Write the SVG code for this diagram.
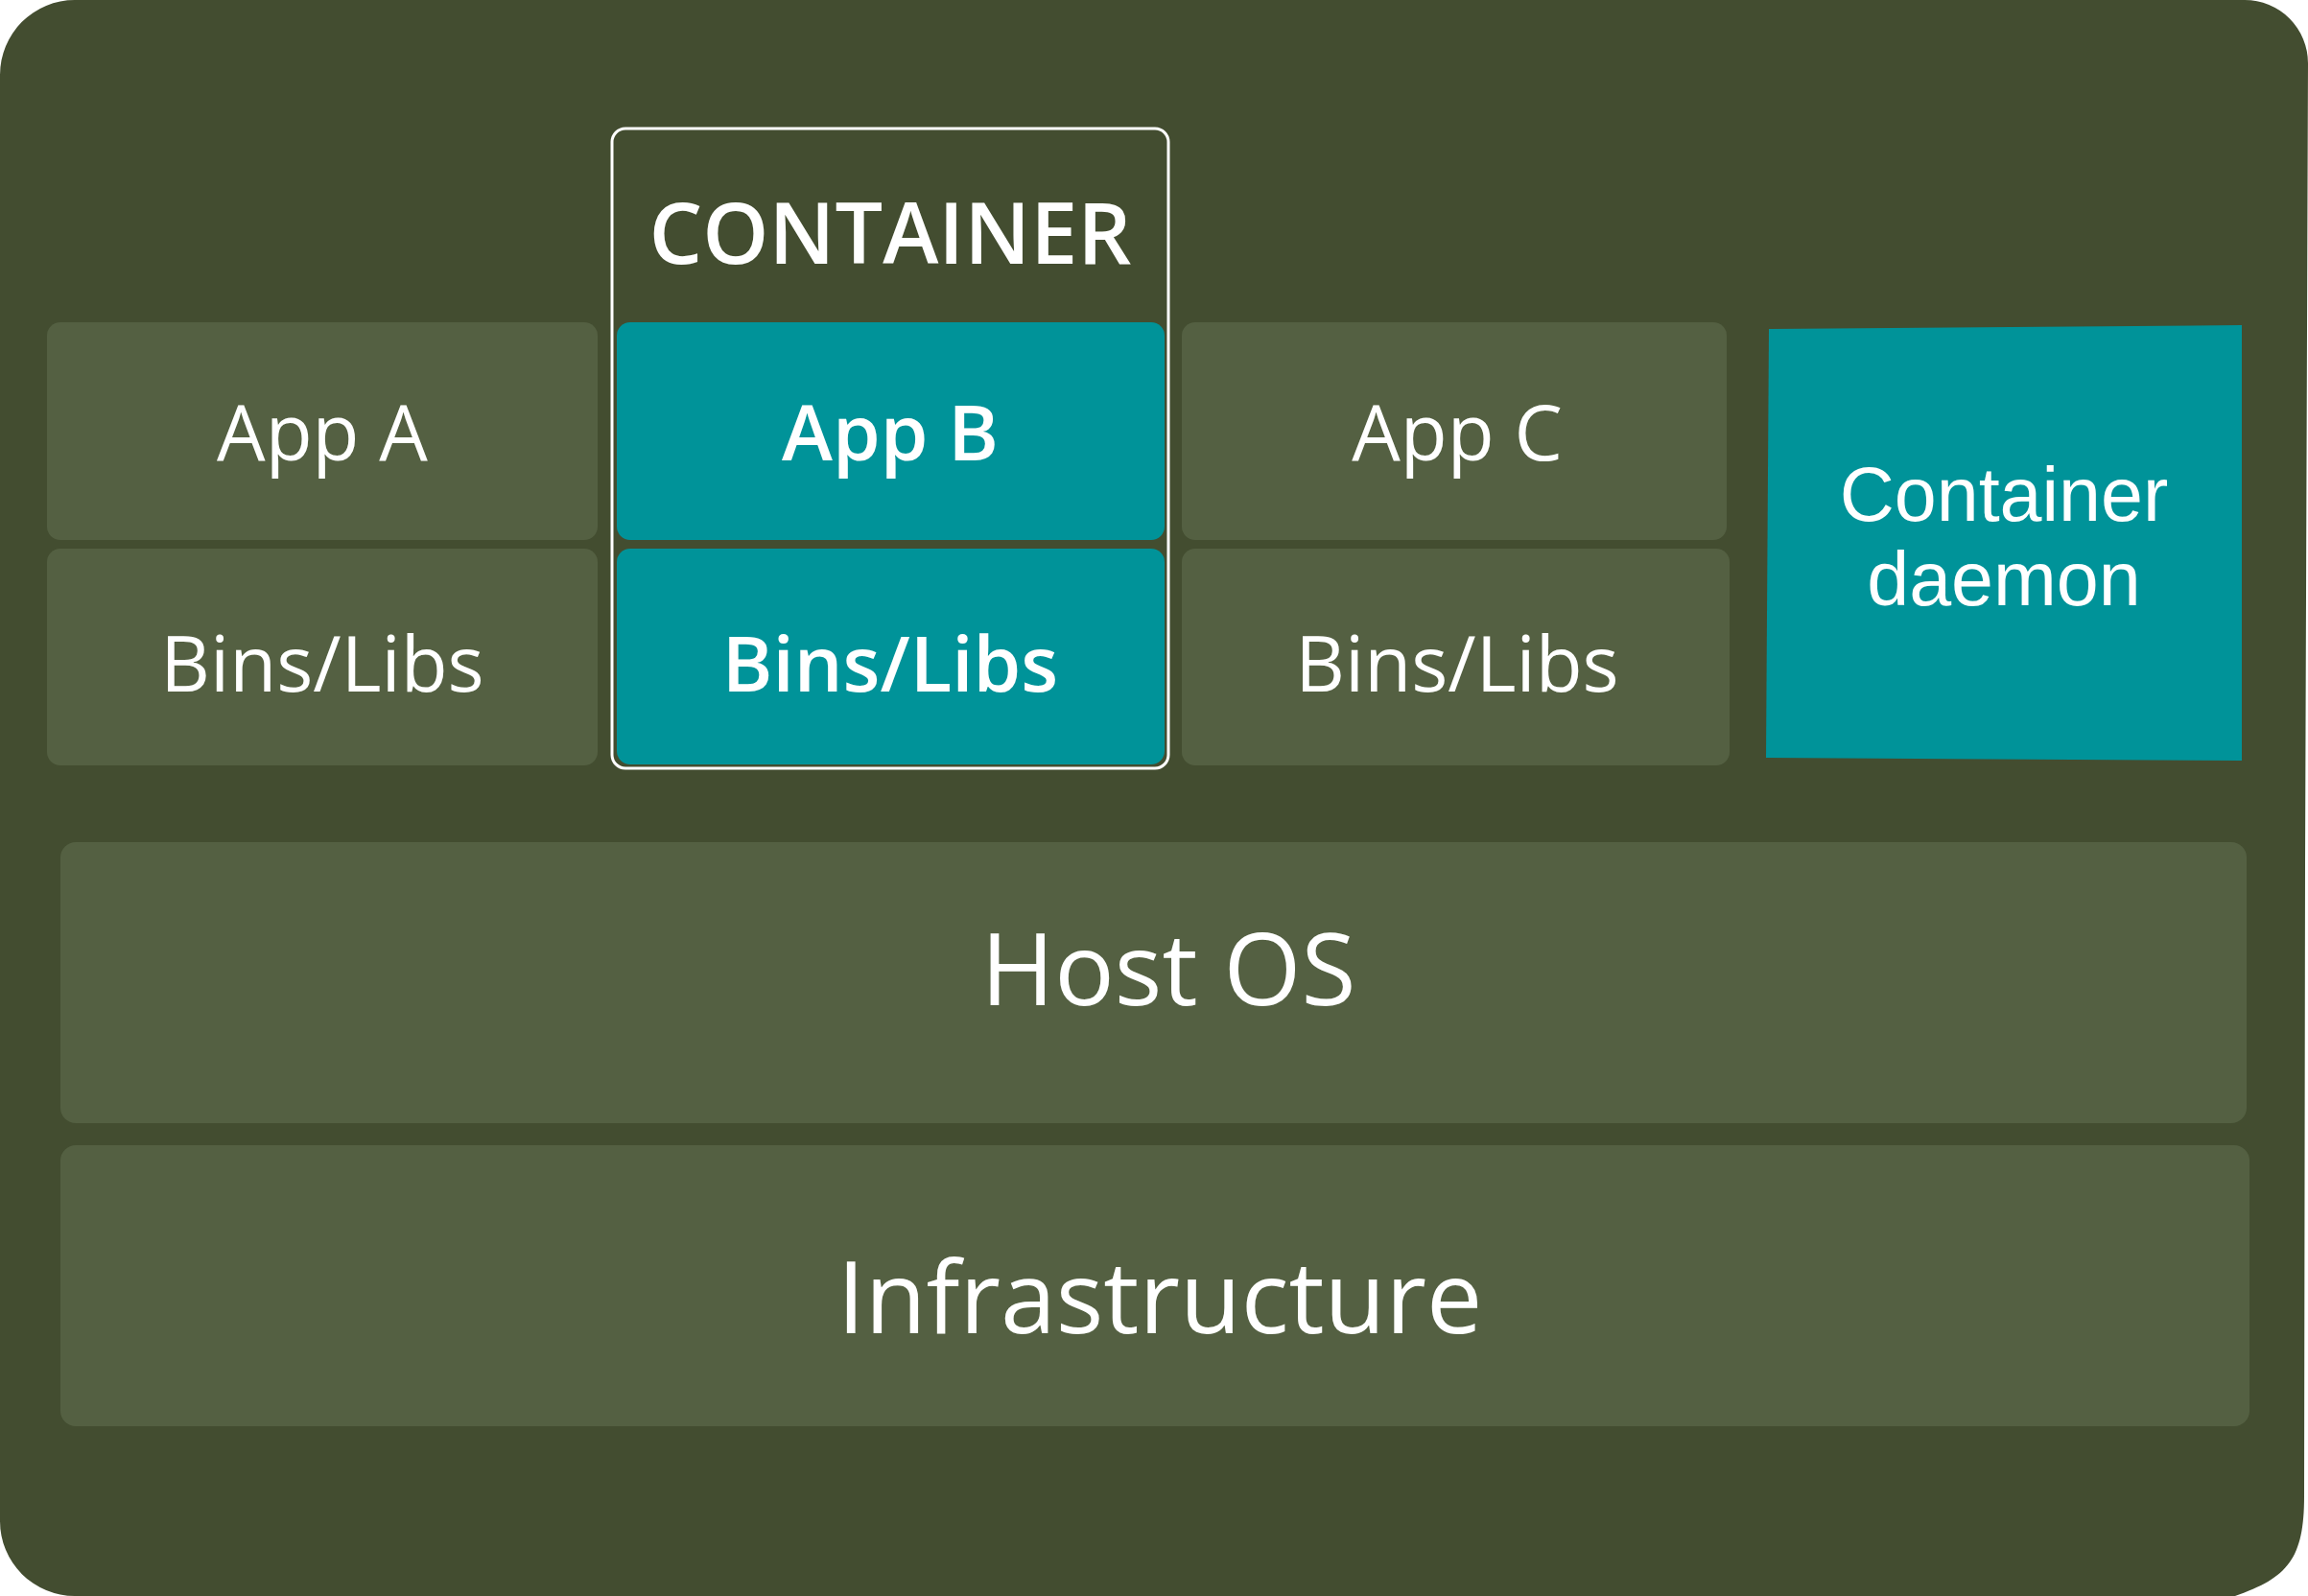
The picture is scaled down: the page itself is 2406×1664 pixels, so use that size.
<svg xmlns="http://www.w3.org/2000/svg" width="2406" height="1664" viewBox="0 0 2406 1664">
<style>
.bg{fill:#434D30}
.box{fill:#546042}
.teal{fill:#009399}
.lbl{font-family:"Open Sans","Noto Sans",sans-serif;font-size:80px;fill:#FFFFFF;text-anchor:middle}
.bold{font-weight:600}
.big{font-size:104px}
.arial{font-family:"Liberation Sans",Arial,sans-serif;font-size:79px;fill:#FFFFFF;text-anchor:middle}
</style>
<rect width="2406" height="1664" fill="#FFFFFF"/>
<path class="bg" d="M0,78 A78,78 0 0 1 78,0 L2340,0 A66,66 0 0 1 2406,66 L2403,900 L2402,1560 C2402,1625 2385,1645 2330,1664 L78,1664 A78,78 0 0 1 0,1586 Z"/>
<g id="app-a">
<rect class="box" x="49" y="336" width="574" height="227" rx="14"/>
<text class="lbl" x="336" y="480">App A</text>
</g>
<g id="bins-a">
<rect class="box" x="49" y="572" width="574" height="226" rx="14"/>
<text class="lbl" x="336" y="721">Bins/Libs</text>
</g>
<g id="container">
<rect x="638" y="134" width="580" height="667" rx="14" fill="none" stroke="#FFFFFF" stroke-width="3"/>
<text class="lbl bold" x="928" y="275" style="font-size:88px">CONTAINER</text>
</g>
<g id="app-b">
<rect class="teal" x="643" y="336" width="571" height="227" rx="14"/>
<text class="lbl bold" x="928" y="480">App B</text>
</g>
<g id="bins-b">
<rect class="teal" x="643" y="572" width="571" height="225" rx="14"/>
<text class="lbl bold" x="928" y="721">Bins/Libs</text>
</g>
<g id="app-c">
<rect class="box" x="1232" y="336" width="568" height="227" rx="14"/>
<text class="lbl" x="1519" y="480">App C</text>
</g>
<g id="bins-c">
<rect class="box" x="1232" y="572" width="571" height="226" rx="14"/>
<text class="lbl" x="1519" y="721">Bins/Libs</text>
</g>
<g id="daemon">
<polygon class="teal" points="1844,343 2337,339 2337,793 1841,790"/>
<text class="arial" x="2089" y="543">Container</text>
<text class="arial" x="2089" y="631">daemon</text>
</g>
<g id="host-os">
<rect class="box" x="63" y="878" width="2279" height="293" rx="16"/>
<text class="lbl big" x="1218" y="1048">Host OS</text>
</g>
<g id="infrastructure">
<rect class="box" x="63" y="1194" width="2282" height="293" rx="16"/>
<text class="lbl big" x="1209" y="1390">Infrastructure</text>
</g>
<g id="connectors"/>
</svg>
